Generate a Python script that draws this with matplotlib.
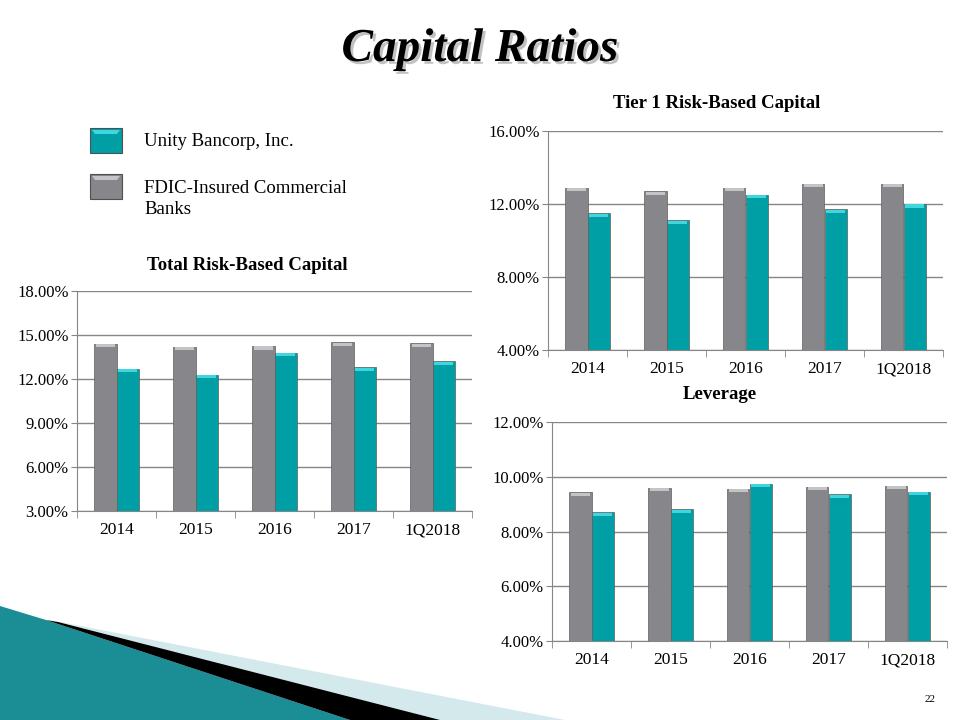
import matplotlib.pyplot as plt
import matplotlib.patheffects as pe
from matplotlib.patches import Polygon
from matplotlib.ticker import FuncFormatter
import numpy as np

# data
periods = ["2014", "2015", "2016", "2017", "1Q2018"]

total_fdic = [14.4, 14.2, 14.25, 14.5, 14.45]
total_unity = [12.7, 12.3, 13.8, 12.8, 13.2]

tier1_fdic = [12.9, 12.7, 12.9, 13.1, 13.1]
tier1_unity = [11.5, 11.1, 12.5, 11.7, 12.0]

lev_fdic = [9.43, 9.6, 9.56, 9.63, 9.67]
lev_unity = [8.7, 8.82, 9.75, 9.36, 9.45]

GRAY = "#87878b"
GRAY_TOP = "#c4c4c6"
TEAL = "#009ea5"
TEAL_TOP = "#3fd6df"
GRID = "#868686"

plt.rcParams["font.family"] = ["Liberation Serif", "DejaVu Serif"]

W, H = 960, 720
fig = plt.figure(figsize=(9.6, 7.2), dpi=100)


def px_axes(left, top, right, bottom):
    return fig.add_axes([left / W, 1 - bottom / H, (right - left) / W, (bottom - top) / H])


def bar_chart(ax, fdic, unity, ymin, ymax, step, title, title_x, title_y):
    x = np.arange(len(periods))
    w = 0.285
    for vals, off, col, top in [(fdic, -w / 2, GRAY, GRAY_TOP), (unity, w / 2, TEAL, TEAL_TOP)]:
        vals = np.array(vals)
        ax.bar(x + off, vals - ymin, w, bottom=ymin, color=col, edgecolor="#5e5e5e",
               linewidth=0.5, zorder=3)
        # bevel highlight on top of each bar
        cap = (ymax - ymin) * 0.014
        ax.bar(x + off, cap, w * 0.86, bottom=vals - cap * 1.15, color=top, linewidth=0, zorder=4)
    ax.set_xlim(-0.5, len(periods) - 0.5)
    ax.set_ylim(ymin, ymax)
    ax.set_yticks(np.arange(ymin, ymax + step / 2, step))
    ax.yaxis.set_major_formatter(FuncFormatter(lambda v, p: f"{v:.2f}%"))
    ax.set_xticks(x)
    ax.set_xticklabels(periods)
    ax.set_xticks(np.arange(-0.5, len(periods)), minor=True)
    ax.tick_params(axis="x", which="major", length=0, pad=8, labelsize=12.5)
    ax.tick_params(axis="x", which="minor", length=5, color=GRID, direction="out")
    ax.tick_params(axis="y", length=4, color=GRID, labelsize=12, pad=2)
    ax.grid(axis="y", color=GRID, linewidth=1, zorder=0)
    for s in ["top", "right"]:
        ax.spines[s].set_visible(False)
    for s in ["left", "bottom"]:
        ax.spines[s].set_color(GRID)
    fig.text(title_x / W, 1 - title_y / H, title,
             ha="center", va="center", fontsize=13.5, fontweight="bold")


ax1 = px_axes(77, 291, 472, 511)
bar_chart(ax1, total_fdic, total_unity, 3, 18, 3, "Total Risk-Based Capital", 247, 265)

ax2 = px_axes(548, 131, 943, 350)
bar_chart(ax2, tier1_fdic, tier1_unity, 4, 16, 4, "Tier 1 Risk-Based Capital", 717, 104)

ax3 = px_axes(552, 422, 947, 641)
bar_chart(ax3, lev_fdic, lev_unity, 4, 12, 2, "Leverage", 720, 394)

# slide title with a soft shadow
fig.text(480 / W, 1 - 50 / H, "Capital Ratios", ha="center", va="center", fontsize=34,
         fontweight="bold", style="italic", color="black",
         path_effects=[pe.withSimplePatchShadow(offset=(2, -2), shadow_rgbFace="#999999",
                                                alpha=0.6)])

# legend boxes
bg = fig.add_axes([0, 0, 1, 1], zorder=-1)
bg.set_xlim(0, W)
bg.set_ylim(H, 0)
bg.axis("off")
for y0, col, top in [(128, TEAL, TEAL_TOP), (174, GRAY, GRAY_TOP)]:
    bg.add_patch(Polygon([(90, y0), (122, y0), (122, y0 + 25), (90, y0 + 25)],
                         closed=True, facecolor=col, edgecolor="#505050", linewidth=0.8))
    bg.add_patch(Polygon([(92, y0 + 2), (120, y0 + 2), (117, y0 + 6), (95, y0 + 6)],
                         closed=True, facecolor=top, linewidth=0))
fig.text(144 / W, 1 - 141 / H, "Unity Bancorp, Inc.", ha="left", va="center", fontsize=13.5)
fig.text(144 / W, 1 - 199 / H, "FDIC-Insured Commercial\nBanks", ha="left", va="center",
         fontsize=13.5, linespacing=1.35)

# bottom-left decoration
bg.add_patch(Polygon([(55, 621), (565, 720), (430, 720)], closed=True,
                     facecolor="#d3e9ec", linewidth=0))
bg.add_patch(Polygon([(0, 606), (46, 620), (350, 720), (0, 720)], closed=True,
                     facecolor="#1a8d95", linewidth=0))
bg.add_patch(Polygon([(46, 620), (58, 622), (440, 720), (350, 720)], closed=True,
                     facecolor="black", linewidth=0))

fig.text(930 / W, 1 - 700 / H, "22", ha="center", va="center", fontsize=8)

fig.savefig("out.png", dpi=100)
